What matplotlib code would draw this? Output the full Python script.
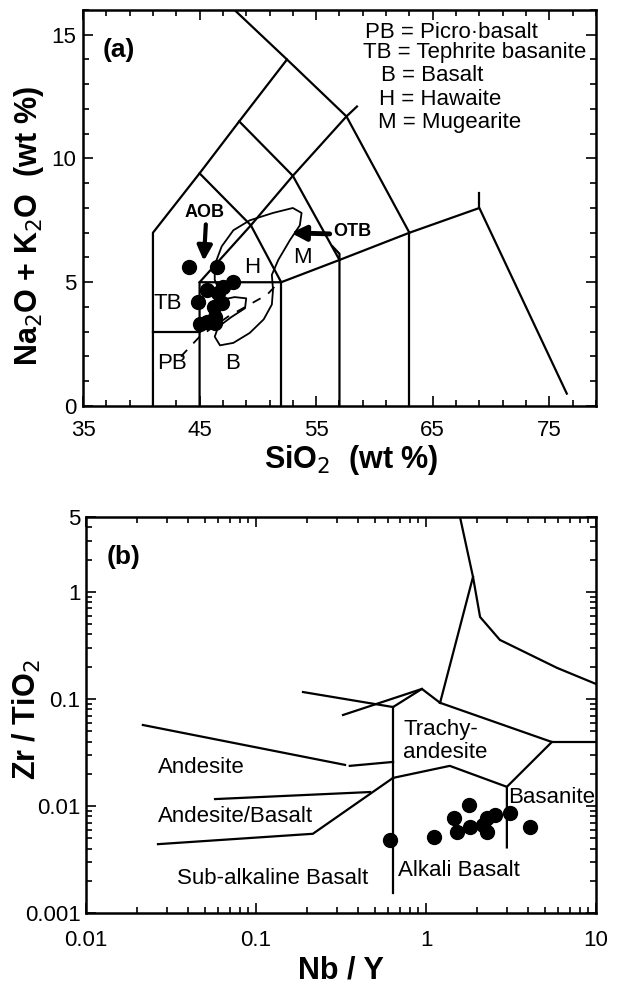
import matplotlib.pyplot as plt
from matplotlib.ticker import FixedLocator, FuncFormatter, LogLocator, NullFormatter

plt.rcParams['font.family'] = ['Liberation Sans', 'DejaVu Sans']

## (a) TAS diagram - samples
sio2 = [44.1, 46.5, 47.9, 44.9, 45.0, 45.6, 46.3, 46.6, 47.0, 46.2, 46.9, 45.6, 46.3]
alk = [5.6, 5.6, 5.0, 4.2, 3.3, 3.4, 3.6, 4.55, 4.8, 4.0, 4.15, 4.7, 3.35]

# field boundaries (SiO2, Na2O+K2O)
tas_lines = [
    ([41, 41, 45, 48.4, 52.5, 48.0], [0, 7, 9.4, 11.5, 14, 16]),
    ([52.5, 57.6, 63], [14, 11.7, 7]),
    ([48.4, 53, 57], [11.5, 9.3, 5.9]),
    ([45, 49.4, 53, 57.6, 58.5], [9.4, 7.3, 9.3, 11.7, 12.1]),
    ([45, 49.4, 52], [5, 7.3, 5]),
    ([41, 45], [3, 3]),
    ([45, 45, 52, 57, 63, 69, 76.5], [0, 5, 5, 5.9, 7, 8, 0.5]),
    ([52, 52], [0, 5]),
    ([57, 57, 56.4], [0, 6.15, 6.45]),
    ([63, 63], [0, 7]),
    ([69, 69], [8, 8.6]),
]
# alkaline / subalkaline divide
div_x = [43.4, 45.0, 47.4, 50.8, 51.6]
div_y = [2.0, 2.8, 3.6, 4.5, 4.9]
# outline of comparison field
field_x = [46.3, 46.9, 47.9, 49.3, 51.3, 53.0, 53.75, 53.6, 52.75, 51.75, 51.2, 51.3, 51.2,
           50.5, 49.3, 47.9, 46.75, 46.3, 46.6, 47.75, 48.9, 49.0, 48.0, 47.0, 46.3, 46.3]
field_y = [5.7, 6.45, 7.1, 7.5, 7.8, 8.0, 7.8, 7.3, 6.7, 5.9, 5.3, 4.7, 4.1,
           3.5, 2.95, 2.55, 2.45, 2.8, 3.2, 3.6, 3.95, 4.35, 4.4, 4.3, 5.1, 5.7]

tas_names = ['PB = Picro·basalt', 'TB = Tephrite basanite', 'B = Basalt', 'H = Hawaite', 'M = Mugearite']

## (b) Winchester & Floyd - samples
nb_y = [0.61, 1.11, 1.46, 1.79, 1.52, 1.81, 2.16, 2.28, 2.55, 2.30, 3.12, 4.09]
zr_ti = [0.0048, 0.0051, 0.0077, 0.0102, 0.0057, 0.0064, 0.0066, 0.0057, 0.0082, 0.0077, 0.0086, 0.0064]

wf_lines = [
    ([1.585, 1.89, 2.08, 2.72, 5.9, 10], [5.0, 1.38, 0.583, 0.356, 0.195, 0.138]),
    ([1.89, 1.21], [1.38, 0.092]),
    ([0.325, 0.946, 1.21], [0.0708, 0.124, 0.092]),
    ([0.64, 0.946], [0.084, 0.124]),
    ([0.189, 0.64], [0.116, 0.084]),
    ([0.64, 0.64], [0.084, 0.00154]),
    ([1.21, 5.5, 10], [0.092, 0.0396, 0.0396]),
    ([5.5, 2.99, 2.99], [0.0396, 0.0151, 0.0041]),
    ([0.64, 1.38, 2.99], [0.0183, 0.0237, 0.0151]),
    ([0.0216, 0.334], [0.0571, 0.0242]),
    ([0.356, 0.64], [0.0237, 0.0258]),
    ([0.64, 0.216, 0.0265], [0.0183, 0.0055, 0.0044]),
    ([0.0574, 0.469], [0.0116, 0.0135]),
]

fig = plt.figure(figsize=(6.18, 9.89), dpi=100)
ax1 = fig.add_axes([0.1343, 0.5895, 0.830, 0.4004])
ax2 = fig.add_axes([0.1392, 0.0768, 0.8252, 0.4004])

LW = 1.6
FS = 16

# ---- panel a
for xs, ys in tas_lines:
    ax1.plot(xs, ys, color='k', lw=LW)
ax1.plot(div_x, div_y, color='k', lw=1.3, ls=(0, (5, 5)))
ax1.plot(field_x, field_y, color='k', lw=1.3)
ax1.plot(sio2, alk, 'o', color='k', ms=10, zorder=5)

ax1.annotate('', xy=(45.35, 5.75), xytext=(45.55, 7.45),
             arrowprops=dict(arrowstyle='-|>', color='k', lw=3, mutation_scale=22))
ax1.text(45.45, 7.8, 'AOB', fontsize=13, fontweight='bold', ha='center', va='center')
ax1.annotate('', xy=(52.6, 7.0), xytext=(56.4, 6.95),
             arrowprops=dict(arrowstyle='-|>', color='k', lw=3.5, mutation_scale=22))
ax1.text(56.5, 7.05, 'OTB', fontsize=13, fontweight='bold', ha='left', va='center')

ax1.text(42.3, 4.15, 'TB', fontsize=FS, ha='center', va='center')
ax1.text(42.6, 1.7, 'PB', fontsize=FS, ha='center', va='center')
ax1.text(47.8, 1.7, 'B', fontsize=FS, ha='center', va='center')
ax1.text(49.5, 5.6, 'H', fontsize=FS, ha='center', va='center')
ax1.text(53.8, 6.0, 'M', fontsize=FS, ha='center', va='center')
ax1.text(36.7, 14.4, '(a)', fontsize=19, fontweight='bold', ha='left', va='center')

leg_x = [59.2, 59.0, 60.6, 60.4, 60.3]
leg_y = [15.1, 14.3, 13.35, 12.4, 11.45]
for name, lx, ly in zip(tas_names, leg_x, leg_y):
    ax1.text(lx, ly, name, fontsize=FS, ha='left', va='center')

ax1.set_xlim(35, 79)
ax1.set_ylim(0, 16)
ax1.xaxis.set_major_locator(FixedLocator([35, 45, 55, 65, 75]))
ax1.xaxis.set_minor_locator(FixedLocator(list(range(35, 80, 2))))
ax1.yaxis.set_major_locator(FixedLocator([0, 5, 10, 15]))
ax1.yaxis.set_minor_locator(FixedLocator(list(range(0, 17))))
ax1.tick_params(axis='x', pad=10)
ax1.tick_params(axis='y', pad=5)
ax1.set_xlabel('SiO$_2$  (wt %)', fontsize=22, fontweight='bold', va='center')
ax1.xaxis.set_label_coords(0.522, -0.136)
ax1.set_ylabel('Na$_2$O + K$_2$O  (wt %)', fontsize=22, fontweight='bold', va='center')
ax1.yaxis.set_label_coords(-0.105, 0.455)

# ---- panel b
for xs, ys in wf_lines:
    ax2.plot(xs, ys, color='k', lw=LW)
ax2.plot(nb_y, zr_ti, 'o', color='k', ms=10, zorder=5)

ax2.text(0.733, 0.0405, 'Trachy-\nandesite', fontsize=FS, ha='left', va='center', linespacing=1.15)
ax2.text(0.0265, 0.0227, 'Andesite', fontsize=FS, ha='left', va='center')
ax2.text(0.0265, 0.0079, 'Andesite/Basalt', fontsize=FS, ha='left', va='center')
ax2.text(0.0343, 0.00212, 'Sub-alkaline Basalt', fontsize=FS, ha='left', va='center')
ax2.text(0.684, 0.00252, 'Alkali Basalt', fontsize=FS, ha='left', va='center')
ax2.text(3.03, 0.0121, 'Basanite', fontsize=FS, ha='left', va='center')
ax2.text(0.0133, 2.12, '(b)', fontsize=19, fontweight='bold', ha='left', va='center')

ax2.set_xscale('log')
ax2.set_yscale('log')
ax2.set_xlim(0.01, 10)
ax2.set_ylim(0.001, 5)
ax2.yaxis.set_major_locator(FixedLocator([0.001, 0.01, 0.1, 1, 5]))
ax2.yaxis.set_minor_locator(LogLocator(subs=range(2, 10), numticks=20))
ax2.yaxis.set_minor_formatter(NullFormatter())
ax2.xaxis.set_minor_locator(LogLocator(subs=range(2, 10), numticks=20))
ax2.xaxis.set_minor_formatter(NullFormatter())
fmt = FuncFormatter(lambda v, p: '%g' % v)
ax2.xaxis.set_major_formatter(fmt)
ax2.yaxis.set_major_formatter(fmt)
ax2.tick_params(axis='x', pad=12)
ax2.tick_params(axis='y', pad=4)
ax2.set_xlabel('Nb / Y', fontsize=22, fontweight='bold', va='center')
ax2.xaxis.set_label_coords(0.5, -0.144)
ax2.set_ylabel('Zr / TiO$_2$', fontsize=22, fontweight='bold', va='center')
ax2.yaxis.set_label_coords(-0.116, 0.487)

for ax in (ax1, ax2):
    ax.tick_params(which='both', direction='in', top=True, right=True, labelsize=FS, width=1.2)
    ax.tick_params(which='major', length=7)
    ax.tick_params(which='minor', length=4)
    for s in ax.spines.values():
        s.set_linewidth(1.8)

fig.savefig('out.png', dpi=100)
